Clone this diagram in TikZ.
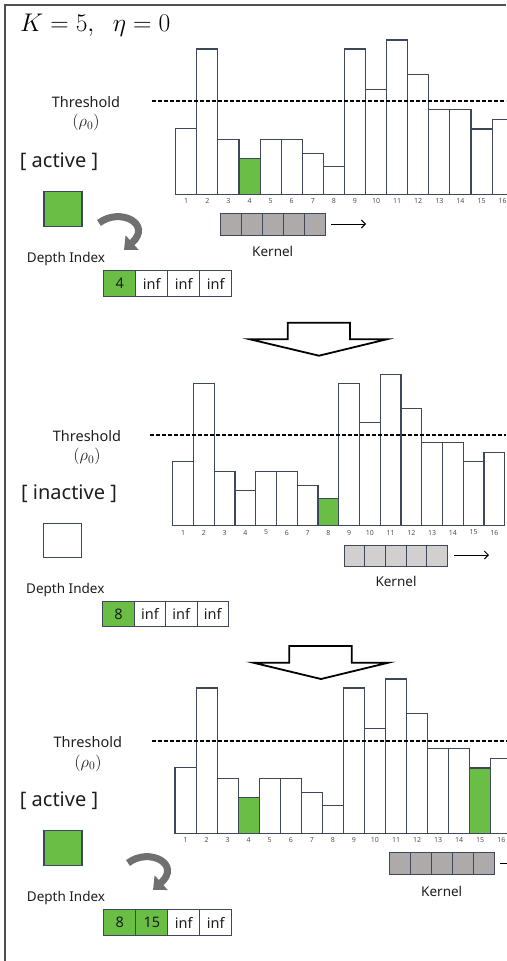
\documentclass[tikz,border=0pt]{standalone}
\usepackage{fix-cm}
\usepackage{fontspec}
\setmainfont{Noto Sans}
\usetikzlibrary{arrows.meta}
\definecolor{barline}{RGB}{62,72,90}
\definecolor{grn}{RGB}{106,190,69}
\definecolor{kgray}{RGB}{174,170,170}
\definecolor{klight}{RGB}{210,207,207}
\definecolor{agray}{RGB}{112,112,112}
\definecolor{txt}{RGB}{30,30,30}
\definecolor{numc}{RGB}{80,80,80}
\tikzset{
  bar/.style={draw=barline, line width=1.1pt, fill=white},
  num/.style={font=\fontsize{7}{8}\selectfont, text=numc, inner sep=0pt},
  thr/.style={line width=1.6pt, dash pattern=on 4pt off 2pt},
  lbl/.style={font=\fontsize{14.5}{17}\selectfont, text=txt, inner sep=0pt},
  rho/.style={font=\fontsize{16.5}{20}\selectfont, text=txt, inner sep=0pt},
  state/.style={font=\fontsize{20}{24}\selectfont, text=txt, inner sep=0pt},
  small/.style={font=\fontsize{13.5}{16}\selectfont, text=txt, inner sep=0pt},
  cell/.style={draw=barline, line width=1pt, minimum width=32pt, minimum height=26pt, inner sep=0pt, font=\fontsize{14.5}{17}\selectfont, text=txt, anchor=north west},
  kcell/.style={draw=barline, line width=1pt},
  sq/.style={draw=barline, line width=1.1pt},
  blockarrow/.style={draw=black, line width=1.8pt, fill=white, line join=miter},
  curv/.style={draw=agray, line width=7pt, -{Triangle[length=11pt, width=19pt]}},
  karrow/.style={draw=black, line width=0.9pt, -{Straight Barb[length=4pt, width=8pt]}}
}
\def\hts{65.5,145.3,55,36,55,55,41,27.5,145.3,105,154.3,120,85,85,65.3,75}
\newcommand\barpanel[5]{%
  \foreach \hh [count=\i] in \hts {
    \pgfmathsetmacro\xl{#2+(\i-1)*#4}
    \draw[bar] (\xl,#3) rectangle ++(#4,-\hh*#5);
    \node[num] (#1n\i) at (\xl+#4/2,#3+6.8) {\i};
  }}
\newcommand\greenbar[5]{%
  \pgfmathsetmacro\xl{#1+(#5-1)*#3}
  \draw[bar, fill=grn] (\xl,#2) rectangle ++(#3,-\gh*#4);}
\begin{document}
\begin{tikzpicture}[x=1pt,y=-1pt]
\useasboundingbox (0,0) rectangle (506,961);
\draw[line width=1.2pt, draw=numc] (5,961) -- (5,5) -- (506,5);

% title
\node[anchor=base west, inner sep=0pt] (title) at (20,31.7) {\fontsize{25.5}{30}\selectfont $K=5,\;\;\eta=0$};

% ================= panel 1
\barpanel{a}{175.7}{194.3}{21.09}{1}
\def\gh{36}\greenbar{175.7}{194.3}{21.09}{1}{4}
\draw[thr] (152,101) -- (506,101);
\node[lbl] (thA) at (86,102) {Threshold};
\node[rho] (rhoA) at (86,122.5) {$(\rho_0)$};
\node[state] (stA) at (59,161.7) {[ active ]};
\node[sq, fill=grn, minimum width=38pt, minimum height=35pt, inner sep=0pt] (sqA) at (63,209.2) {};
\draw[curv] (99,223) .. controls (120,207) and (153,224) .. (124,250);
\node[small] (diA) at (66,259) {Depth Index};
\node[cell, fill=grn] (a1) at (103.3,270) {4};
\node[cell] (a2) at (135.3,270) {inf};
\node[cell] (a3) at (167.3,270) {inf};
\node[cell] (a4) at (199.3,270) {inf};
\foreach \k in {0,...,4} { \draw[kcell, fill=kgray] (220+\k*21.06,213.3) rectangle ++(21.06,21.7); }
\coordinate (kaS) at (331,224);
\coordinate (kaE) at (366,224);
\draw[karrow] (kaS) -- (kaE);
\node[small] (kA) at (272.7,251.7) {Kernel};

% block arrow 1
\draw[blockarrow] (287.7,322.7) -- (350,322.7) -- (350,339.3) -- (386.7,339.3) -- (319,355.7) -- (250,339.3) -- (287.7,339.3) -- cycle;

% ================= panel 2
\barpanel{b}{172.7}{525.7}{20.75}{0.98}
\def\gh{27.5}\greenbar{172.7}{525.7}{20.75}{0.98}{8}
\draw[thr] (150,435) -- (506,435);
\node[lbl] (thB) at (87,435.7) {Threshold};
\node[rho] (rhoB) at (87,456.5) {$(\rho_0)$};
\node[state] (stB) at (69,493.3) {[ inactive ]};
\node[sq, fill=white, minimum width=37.7pt, minimum height=34pt, inner sep=0pt] (sqB) at (62.2,540.3) {};
\node[small] (diB) at (65.3,590) {Depth Index};
\node[cell, fill=grn, minimum width=31.4pt, minimum height=25.6pt] (b1) at (102.3,600.7) {8};
\node[cell, minimum width=31.4pt, minimum height=25.6pt] (b2) at (133.7,600.7) {inf};
\node[cell, minimum width=31.4pt, minimum height=25.6pt] (b3) at (165.1,600.7) {inf};
\node[cell, minimum width=31.4pt, minimum height=25.6pt] (b4) at (196.5,600.7) {inf};
\foreach \k in {0,...,4} { \draw[kcell, fill=klight] (344+\k*20.74,545) rectangle ++(20.74,21); }
\coordinate (kbS) at (454.3,555);
\coordinate (kbE) at (489,555);
\draw[karrow] (kbS) -- (kbE);
\node[small] (kB) at (396,581.7) {Kernel};

% block arrow 2
\draw[blockarrow] (289.3,646) -- (351.7,646) -- (351.7,662.7) -- (388.3,662.7) -- (321,679) -- (253.3,662.7) -- (289.3,662.7) -- cycle;

% ================= panel 3
\barpanel{c}{175}{833.3}{21.05}{1}
\def\gh{36}\greenbar{175}{833.3}{21.05}{1}{4}
\def\gh{65.3}\greenbar{175}{833.3}{21.05}{1}{15}
\draw[thr] (151.7,741.2) -- (506,741.2);
\node[lbl] (thC) at (87.8,741.7) {Threshold};
\node[rho] (rhoC) at (88,763.2) {$(\rho_0)$};
\node[state] (stC) at (59,800.7) {[ active ]};
\node[sq, fill=grn, minimum width=38pt, minimum height=35pt, inner sep=0pt] (sqC) at (63,848.3) {};
\draw[curv] (128,863) .. controls (149,847) and (182,864) .. (153,890);
\node[small] (diC) at (66,898.3) {Depth Index};
\node[cell, fill=grn] (c1) at (103.3,909.3) {8};
\node[cell, fill=grn] (c2) at (135.3,909.3) {15};
\node[cell] (c3) at (167.3,909.3) {inf};
\node[cell] (c4) at (199.3,909.3) {inf};
\foreach \k in {0,...,4} { \draw[kcell, fill=kgray] (389+\k*21,852.3) rectangle ++(21,22); }
\coordinate (kcS) at (500,863.3);
\coordinate (kcE) at (535,863.3);
\draw[karrow] (kcS) -- (kcE);
\node[small] (kC) at (441.7,891) {Kernel};
\end{tikzpicture}
\end{document}
